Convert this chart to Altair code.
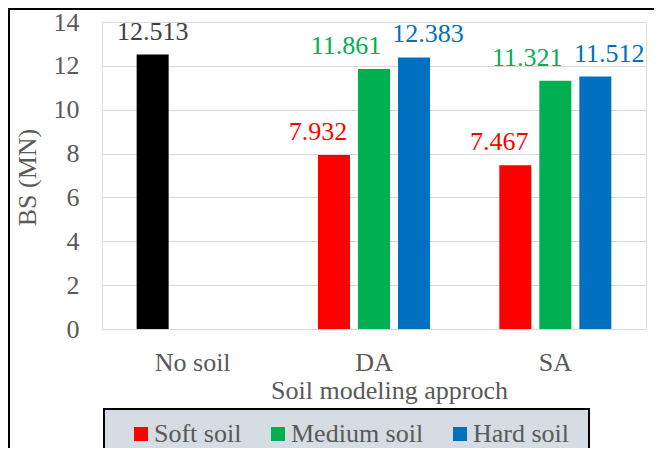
import altair as alt
import pandas as pd

categories = ["No soil", "DA", "SA"]
series = ["Soft soil", "Medium soil", "Hard soil"]
no_soil_value = 12.513
soft_values = [7.932, 7.467]
medium_values = [11.861, 11.321]
hard_values = [12.383, 11.512]
label_texts = {"No soil": ["12.513"], "Soft soil": ["7.932", "7.467"],
               "Medium soil": ["11.861", "11.321"], "Hard soil": ["12.383", "11.512"]}

rows = [{"cat": "No soil", "slot": "Soft soil", "key": "No soil",
         "value": no_soil_value, "label": label_texts["No soil"][0]}]
for i, cat in enumerate(categories[1:]):
    for s, vals in zip(series, [soft_values, medium_values, hard_values]):
        rows.append({"cat": cat, "slot": s, "key": s, "value": vals[i],
                     "label": label_texts[s][i]})
df = pd.DataFrame(rows)

FONT = "Liberation Serif, Times New Roman, serif"
GRAY = "#595959"
color_scale = alt.Scale(domain=["Soft soil", "Medium soil", "Hard soil", "No soil"],
                        range=["#ff0000", "#00b050", "#0070c0", "#000000"])

x_enc = alt.X("cat:N", sort=categories,
              scale=alt.Scale(paddingInner=0, paddingOuter=0),
              axis=alt.Axis(title="Soil modeling approch", labelAngle=0, ticks=False,
                            domain=False, labelPadding=20, labelFontSize=26,
                            labelColor=GRAY, titleFontSize=26, titleColor=GRAY,
                            titleFontWeight="normal", titleX=287, titleY=69,
                            titleBaseline="alphabetic", labelFont=FONT, titleFont=FONT))
xo_enc = alt.XOffset("slot:N", sort=series,
                     scale=alt.Scale(domain=series, paddingInner=0.2, paddingOuter=0.866))
y_enc = alt.Y("value:Q", scale=alt.Scale(domain=[0, 14]),
              axis=alt.Axis(title="BS (MN)", values=[0, 2, 4, 6, 8, 10, 12, 14],
                            ticks=False, domain=False, labelPadding=23, labelFontSize=26,
                            labelColor=GRAY, titleFontSize=26, titleColor=GRAY,
                            titleFontWeight="normal", titleX=-75, titleY=155,
                            titleAngle=270, titleBaseline="middle", titleAlign="center",
                            gridColor="#d9d9d9", gridWidth=1.2,
                            labelFont=FONT, titleFont=FONT))

bars = alt.Chart(df).mark_bar().encode(
    x=x_enc, xOffset=xo_enc, y=y_enc,
    color=alt.Color("key:N", scale=color_scale,
                    legend=alt.Legend(values=series, orient="none", direction="horizontal",
                                      title=None, legendX=26, legendY=399,
                                      symbolType="square", symbolSize=196,
                                      symbolStrokeWidth=0, labelFontSize=26,
                                      labelColor=GRAY, labelFont=FONT, labelOffset=0,
                                      columnPadding=23, padding=0,
                                      labelLimit=300)),
)

dxs = {"No soil": 0, "Soft soil": -16, "Medium soil": -28, "Hard soil": 14}
texts = []
for key, dx in dxs.items():
    color = (alt.value("#404040") if key == "No soil"
             else alt.Color("key:N", scale=color_scale, legend=None))
    texts.append(
        alt.Chart(df).transform_filter(alt.datum.key == key)
        .mark_text(font=FONT, fontSize=26, dx=dx, dy=-15, baseline="alphabetic")
        .encode(x=alt.X("cat:N", sort=categories), xOffset=alt.XOffset("slot:N", sort=series),
                y="value:Q", text="label:N", color=color)
    )

one = pd.DataFrame({"a": [0]})
legend_box = alt.Chart(one).mark_rect(fill="#d6dce4", stroke="#000000", strokeWidth=2).encode(
    x=alt.value(2), x2=alt.value(487), y=alt.value(387), y2=alt.value(480))
frame_top = alt.Chart(one).mark_rule(color="#000000", strokeWidth=2).encode(
    x=alt.value(-94), x2=alt.value(560), y=alt.value(-13))
frame_left = alt.Chart(one).mark_rule(color="#000000", strokeWidth=2).encode(
    x=alt.value(-93), y=alt.value(-14), y2=alt.value(440))

chart = alt.layer(legend_box, bars, *texts, frame_top, frame_left).properties(
    width=544, height=307,
    autosize=alt.AutoSizeParams(type="none"),
    padding={"left": 94, "top": 14, "right": 8, "bottom": 119},
).configure_view(stroke=None).configure(font=FONT).configure_text(font=FONT).configure_legend(
    labelFont=FONT)

chart.save("out.html", embed_options={"renderer": "svg", "actions": False})
